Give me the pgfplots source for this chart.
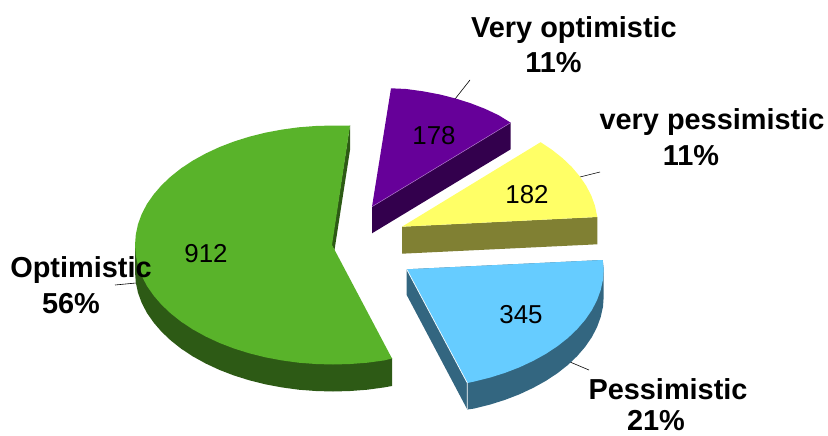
\documentclass[border=0pt]{standalone}
\usepackage{pgfplots}
\usepackage{fontspec}
\setmainfont{Liberation Sans}
\pgfplotsset{compat=1.18}
\definecolor{gT}{HTML}{59B32A}\definecolor{gS}{HTML}{2D5A15}
\definecolor{pT}{HTML}{660099}\definecolor{pS}{HTML}{33004D}
\definecolor{yT}{HTML}{FFFF66}\definecolor{yS}{HTML}{808033}
\definecolor{bT}{HTML}{66CCFF}\definecolor{bS}{HTML}{336680}
\newcommand{\lab}{\fontsize{29}{34}\selectfont\bfseries}
\newcommand{\val}{\fontsize{26}{30}\selectfont}
\begin{document}
\begin{tikzpicture}
\useasboundingbox (0,0) rectangle (828bp,436bp);
\begin{axis}[at={(0,0)},anchor=south west,width=828bp,height=436bp,scale only axis,xmin=0,xmax=828,ymin=0,ymax=436,y dir=reverse,hide axis,clip=false]
% leader lines
\addplot[black,line width=0.6pt] coordinates {(455,99)(470,80)};
\addplot[black,line width=0.6pt] coordinates {(580,177)(600,172)};
\addplot[black,line width=0.6pt] coordinates {(570,362)(589,370)};
\addplot[black,line width=0.6pt] coordinates {(136,283)(115,285)};
% green: sides then top
\addplot[fill=gS,draw=none] coordinates {(350,125)(350,150)(334.5,250)(331.5,245)} --cycle;
\addplot[fill=gS,draw=none] coordinates {(135,245)(135,272)(135.8,282.4)(138,292.8)(141.7,302.9)(146.9,312.9)(153.6,322.5)(161.5,331.7)(170.8,340.5)(181.3,348.8)(193,356.5)(205.7,363.5)(219.4,369.9)(234,375.5)(249.3,380.3)(265.3,384.3)(281.8,387.4)(298.6,389.7)(315.7,391)(333,391.5)(350.3,391)(367.4,389.7)(384.2,387.4)(392,386)(392,358)} --cycle;
\addplot[fill=gT,draw=none] coordinates {(350,125.5)(333,125.5)(315.7,126)(298.6,127.3)(281.8,129.6)(265.3,132.7)(249.3,136.7)(234,141.5)(219.4,147.1)(205.7,153.5)(193,160.5)(181.3,168.2)(170.8,176.5)(161.5,185.3)(153.6,194.5)(146.9,204.1)(141.7,214.1)(138,224.2)(135.8,234.6)(135,245)(135.8,255.4)(138,265.8)(141.7,275.9)(146.9,285.9)(153.6,295.5)(161.5,304.7)(170.8,313.5)(181.3,321.8)(193,329.5)(205.7,336.5)(219.4,342.9)(234,348.5)(249.3,353.3)(265.3,357.3)(281.8,360.4)(298.6,362.7)(315.7,364)(333,364.5)(350.3,364)(367.4,362.7)(384.2,360.4)(392,358.5)(332,245)} --cycle;
% purple
\addplot[fill=pS,draw=none] coordinates {(510.7,122.7)(510.7,149.3)(372,233.3)(372,206.7)} --cycle;
\addplot[fill=pT,draw=none] coordinates {(391,88.3)(406.2,89)(423,91.3)(439.4,94.4)(455.3,98.4)(470.5,103.2)(485,108.8)(498.6,115.2)(510.7,122.7)(372,206.7)} --cycle;
\addplot[color=pT!55!white,line width=0.5pt] coordinates {(510.7,122.7)(372,206.7)};
% yellow
\addplot[fill=yS,draw=none] coordinates {(597.3,217)(597.3,244.3)(402,253.7)(402,226.7)} --cycle;
\addplot[fill=yT,draw=none] coordinates {(540.6,142.2)(552.1,149.9)(562.5,158.1)(571.7,166.9)(579.6,176.2)(586.2,185.8)(591.3,195.7)(595,205.9)(597.3,217)(402,226.7)} --cycle;
% blue
\addplot[fill=bS,draw=none] coordinates {(406.7,269.3)(406.7,295)(467.3,409.5)(474,408.6)(490,404.6)(505.2,399.8)(519.7,394.2)(533.3,387.8)(546,380.8)(557.6,373.1)(568,364.9)(577.3,356)(585.2,346.8)(591.8,337.2)(597,327.2)(600.7,317)(603,306.7)(603.7,296.3)(603.7,269.3)(602.7,260)} --cycle;
\addplot[fill=bT,draw=none] coordinates {(406.7,269.3)(602.7,260)(603.7,269.3)(603,279.7)(600.7,290)(597,300.2)(591.8,310.2)(585.2,319.8)(577.3,329)(568,337.9)(557.6,346.1)(546,353.8)(533.3,360.8)(519.7,367.2)(505.2,372.8)(490,377.6)(474,381.6)(467.3,383)} --cycle;
\addplot[color=white,line width=0.7pt] coordinates {(406.7,269.3)(467.3,383)(467.3,409)};
% values
\node[anchor=center] at (axis cs:434,136) {\val 178};
\node[anchor=center] at (axis cs:527,195) {\val 182};
\node[anchor=center] at (axis cs:521,315) {\val 345};
\node[anchor=center] at (axis cs:206,254) {\val 912};
% labels
\tikzset{every node/.append style={inner sep=0pt}}
\node[anchor=center] at (axis cs:574,30) {\lab Very optimistic};
\node[anchor=center] at (axis cs:553.5,63) {\lab 11\%};
\node[anchor=center] at (axis cs:712,122) {\lab very pessimistic};
\node[anchor=center] at (axis cs:691,156) {\lab 11\%};
\node[anchor=center] at (axis cs:81,270) {\lab Optimistic};
\node[anchor=center] at (axis cs:71,304) {\lab 56\%};
\node[anchor=center] at (axis cs:668,389) {\lab Pessimistic};
\node[anchor=center] at (axis cs:656,421) {\lab 21\%};
\end{axis}
\end{tikzpicture}
\end{document}
